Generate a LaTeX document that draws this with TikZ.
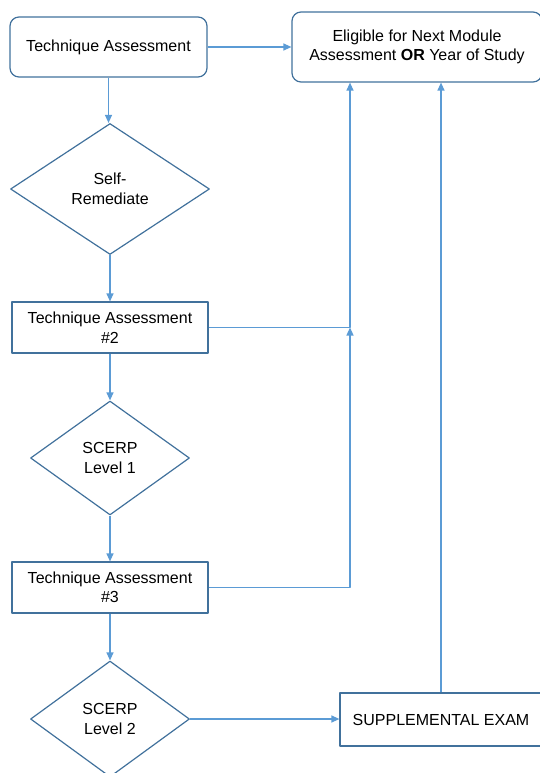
\documentclass[tikz,border=0pt]{standalone}
\usepackage{fontspec}
\setmainfont{Liberation Sans}
\usetikzlibrary{shapes.geometric,arrows.meta}
\definecolor{edgeblue}{RGB}{65,113,156}
\definecolor{arrowblue}{RGB}{91,155,213}
\begin{document}
\begin{tikzpicture}[x=1pt,y=-1pt,>={Triangle[length=8pt,width=7pt]},line join=round,
	font=\fontsize{16}{19.5}\selectfont,
	roundbox/.style={draw=edgeblue,line width=1.2pt,rounded corners=9pt,align=center,inner sep=0pt},
	squarebox/.style={draw=edgeblue,line width=1.2pt,align=center,inner sep=0pt},
	decision/.style={diamond,draw=edgeblue,line width=1.2pt,align=center,inner sep=0pt},
	flow/.style={->,draw=arrowblue,line width=1.2pt}]
	\useasboundingbox (0,0) rectangle (540,773);
	% boxes
	\node[roundbox,minimum width=197pt,minimum height=60pt] (ta1) at (108.5,47) {Technique Assessment};
	\node[roundbox,minimum width=250pt,minimum height=70pt] (elig) at (417,47) {Eligible for Next Module\\Assessment \textbf{OR} Year of Study};
	\node[decision,minimum width=199pt,minimum height=131pt] (sr) at (110,189) {Self-\\Remediate};
	\node[squarebox,minimum width=196pt,minimum height=51pt] (ta2) at (110,327.5) {Technique Assessment\\\#2};
	\node[decision,minimum width=159pt,minimum height=114pt] (lvl1) at (110,458) {SCERP\\Level 1};
	\node[squarebox,minimum width=196pt,minimum height=51pt] (ta3) at (110,587.5) {Technique Assessment\\\#3};
	\node[decision,minimum width=159pt,minimum height=116pt] (lvl2) at (110,719) {SCERP\\Level 2};
	\node[squarebox,minimum width=202pt,minimum height=53pt] (supp) at (441,719.5) {SUPPLEMENTAL EXAM};
	\coordinate (join) at (350,327.5);
	% connectors
	\draw[flow] (ta1) -- (elig);
	\draw[flow] (ta1.south) -- (ta1.south |- sr.north);
	\draw[flow] (sr) -- (ta2);
	\draw[flow] (ta2) -- (lvl1);
	\draw[flow] (lvl1) -- (ta3);
	\draw[flow] (ta3) -- (lvl2);
	\draw[flow] (lvl2.east) -- (lvl2.east -| supp.west);
	\draw[flow] (ta2.east) -- (join) -- (join |- elig.south);
	\draw[flow] (ta3.east) -| (join);
	\draw[flow] (supp.north) -- (supp.north |- elig.south);
\end{tikzpicture}
\end{document}
